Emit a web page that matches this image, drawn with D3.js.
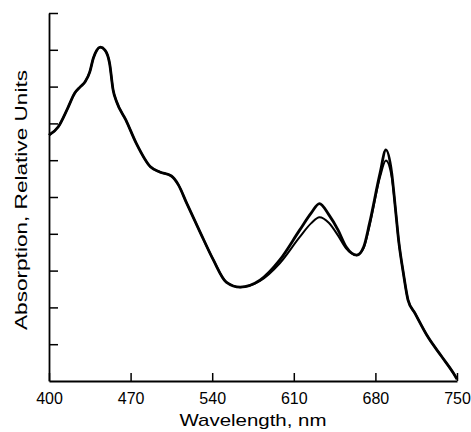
<!DOCTYPE html>
<html>
<head>
<meta charset="utf-8">
<script src="https://cdn.jsdelivr.net/npm/d3@7"></script>
<style>
  body { margin: 0; background: #fff; }
  svg text { font-family: "Liberation Sans", Arial, Helvetica, sans-serif; fill: #000; }
</style>
</head>
<body>
<div id="chart"></div>
<script>
//Datos
const wavelengths = [400, 408, 416, 422, 427, 431, 435, 438, 441, 444, 448, 452, 455, 458, 466, 475, 487, 495, 505, 511, 518, 530, 541, 552, 564, 581, 598, 615, 625, 632, 640, 648, 655, 664, 670, 675, 684, 689, 694, 697, 700, 704, 708, 714, 725, 737, 747, 750];
const absorbA = [6.68, 6.91, 7.41, 7.82, 8.00, 8.13, 8.40, 8.77, 8.99, 9.07, 8.99, 8.63, 7.91, 7.59, 7.09, 6.45, 5.82, 5.68, 5.57, 5.33, 4.84, 4.02, 3.29, 2.69, 2.55, 2.74, 3.29, 4.10, 4.57, 4.82, 4.52, 4.10, 3.64, 3.42, 3.65, 4.29, 5.65, 6.28, 5.65, 4.74, 3.80, 2.93, 2.20, 1.84, 1.20, 0.66, 0.21, 0.05];
const absorbB = [6.68, 6.91, 7.41, 7.82, 8.00, 8.13, 8.40, 8.77, 8.99, 9.07, 8.99, 8.63, 7.91, 7.59, 7.09, 6.45, 5.82, 5.68, 5.57, 5.33, 4.84, 4.02, 3.29, 2.69, 2.55, 2.72, 3.20, 3.91, 4.29, 4.45, 4.30, 3.95, 3.60, 3.42, 3.62, 4.22, 5.55, 5.99, 5.55, 4.74, 3.80, 2.93, 2.20, 1.84, 1.20, 0.66, 0.21, 0.05];
const xTicks = [400, 470, 540, 610, 680, 750];
const yTicks = [1, 2, 3, 4, 5, 6, 7, 8, 9, 10];

const width = 471, height = 432;

let svg = d3.select('#chart')
    .append('svg')
    .attr('width', width)
    .attr('height', height);

let x = d3.scaleLinear()
    .domain([400, 750])
    .range([49, 457]);

let y = d3.scaleLinear()
    .domain([0, 10])
    .range([381, 13]);

//Ejes
let yAxis = svg.append('g')
    .attr('transform', 'translate(' + x(400) + ',0)')
    .call(d3.axisLeft(y).tickValues(yTicks).tickSize(-9).tickSizeOuter(0).tickFormat(''));

let xAxis = svg.append('g')
    .attr('transform', 'translate(0,' + y(0) + ')')
    .call(d3.axisBottom(x).tickValues(xTicks).tickSize(-8).tickSizeOuter(0).tickPadding(12));

svg.selectAll('.domain').attr('stroke', '#000').attr('stroke-width', 1.8);
svg.selectAll('.tick line').attr('stroke', '#000').attr('stroke-width', 1.5);
xAxis.selectAll('.tick text')
    .attr('font-size', 16)
    .attr('fill', '#000');

//Títulos de ejes
svg.append('text')
    .attr('x', 253)
    .attr('y', 426)
    .attr('text-anchor', 'middle')
    .attr('font-size', 17)
    .attr('textLength', 147)
    .attr('lengthAdjust', 'spacingAndGlyphs')
    .text('Wavelength, nm');

svg.append('text')
    .attr('transform', 'translate(27,200) rotate(-90)')
    .attr('text-anchor', 'middle')
    .attr('font-size', 16)
    .attr('textLength', 260)
    .attr('lengthAdjust', 'spacingAndGlyphs')
    .text('Absorption, Relative Units');

//Líneas
let line = d3.line()
    .x(function(d) { return x(d[0]); })
    .y(function(d) { return y(d[1]); })
    .curve(d3.curveMonotoneX);

svg.append('path')
    .datum(wavelengths.map(function(w, i) { return [w, absorbB[i]]; }))
    .attr('fill', 'none')
    .attr('stroke', '#000')
    .attr('stroke-width', 2)
    .attr('d', line);

svg.append('path')
    .datum(wavelengths.map(function(w, i) { return [w, absorbA[i]]; }))
    .attr('fill', 'none')
    .attr('stroke', '#000')
    .attr('stroke-width', 2.8)
    .attr('d', line);
</script>
</body>
</html>
